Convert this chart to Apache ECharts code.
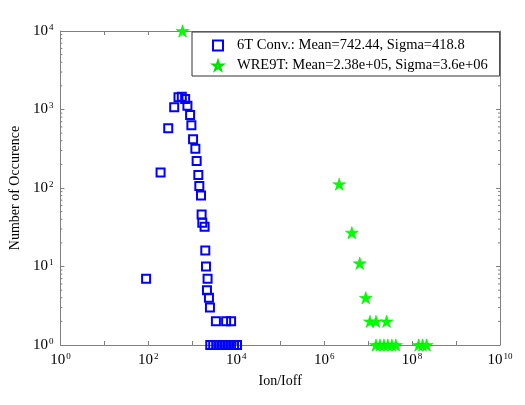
<!DOCTYPE html>
<html>
<head>
<meta charset="utf-8">
<script src="https://cdn.jsdelivr.net/npm/echarts@6/dist/echarts.min.js"></script>
<style>
  html, body { margin: 0; padding: 0; background: #fff; }
  #chart { width: 525px; height: 405px; }
</style>
</head>
<body>
<div id="chart"></div>
<script>
// 6T conventional cell: Ion/Ioff vs count
const convX = [486, 577, 688, 388, 775, 892, 284, 954, 1042, 1175, 1257, 190, 1373, 1446, 1580,
  1630, 1690, 1905, 1977, 2050, 2228, 89, 2158, 2395, 2523, 3445, 5888, 7635,
  2564, 2993, 3499, 4092, 4779, 5585, 6530, 7636, 8917, 10420]
const convY = [1430, 1456, 1361, 1067, 1118, 851, 576, 629, 417, 317, 221, 158, 146, 106, 80,
  46, 36, 32, 16, 10, 7, 7, 5, 4, 3, 2, 2, 2,
  1, 1, 1, 1, 1, 1, 1, 1, 1, 1]

// WRE9T cell
const wreX = [600, 2.2e6, 4.26e6, 6.46e6, 8.83e6, 1.1e7, 1.51e7, 2.63e7,
  1.51e7, 1.86e7, 2.29e7, 2.81e7, 3.47e7, 4.27e7, 1.41e8, 1.73e8, 2.14e8]
const wreY = [10000, 112, 27, 11, 4, 2, 2, 2,
  1, 1, 1, 1, 1, 1, 1, 1, 1]

const legendNames = [
  "6T Conv.: Mean=742.44, Sigma=418.8",
  "WRE9T: Mean=2.38e+05, Sigma=3.6e+06",
]

// minor tick positions for the log y axis (2..9 in each decade)
const yMinorTicks = [2, 3, 4, 5, 6, 7, 8, 9, 20, 30, 40, 50, 60, 70, 80, 90,
  200, 300, 400, 500, 600, 700, 800, 900, 2000, 3000, 4000, 5000, 6000, 7000, 8000, 9000]

const FONT = "Liberation Serif"
const AXIS = "#808080"
const STAR = "path://M100,0 L122.5,69.1 L195.1,69.1 L136.3,111.8 L158.8,180.9 L100,138.2 L41.2,180.9 L63.7,111.8 L4.9,69.1 L77.5,69.1 Z"

const pow10 = (v) => {
  const e = Math.round(Math.log10(v))
  return `{b|10}{s|${e}}`
}
const rich = {
  b: { fontFamily: FONT, fontSize: 15, color: "#000", lineHeight: 16 },
  s: { fontFamily: FONT, fontSize: 9, color: "#000", verticalAlign: "top", lineHeight: 16, padding: [0, 0, 8, 1] },
}

const chart = echarts.init(document.getElementById("chart"))
const logAxis = (extra) => ({
  type: "log",
  logBase: 10,
  interval: 1,
  axisLine: { show: true, lineStyle: { color: AXIS, width: 1 } },
  axisTick: { show: true, inside: true, length: 4, lineStyle: { color: AXIS } },
  splitLine: { show: false },
  ...extra,
})

chart.setOption({
  animation: false,
  textStyle: { fontFamily: FONT, color: "#000" },
  grid: { left: 57, right: 25, top: 31, bottom: 60 },
  legend: {
    left: 192,
    top: 32,
    orient: "vertical",
    backgroundColor: "#fff",
    borderColor: "#333",
    borderWidth: 1,
    padding: [6, 12, 3, 20],
    itemGap: 5,
    itemWidth: 10,
    itemHeight: 10,
    textStyle: { fontFamily: FONT, fontSize: 14.5, lineHeight: 14, color: "#000", padding: [0, 0, 0, 9] },
    data: legendNames,
  },
  xAxis: [
    logAxis({
      min: 1, max: 1e10,
      position: "bottom",
      name: "Ion/Ioff",
      nameLocation: "middle",
      nameGap: 26,
      nameTextStyle: { fontFamily: FONT, fontSize: 14, color: "#000" },
      axisLabel: {
        margin: 7,
        formatter: (v) => (Math.round(Math.log10(v)) % 2 === 0 ? pow10(v) : ""),
        rich,
      },
    }),
    logAxis({
      min: 1, max: 1e10,
      position: "top",
      axisLabel: { show: false },
    }),
  ],
  yAxis: [
    logAxis({
      min: 1, max: 1e4,
      position: "left",
      name: "Number of Occurence",
      nameLocation: "middle",
      nameGap: 31,
      nameTextStyle: { fontFamily: FONT, fontSize: 14, color: "#000" },
      axisLabel: { margin: 7, formatter: pow10, rich },
    }),
    logAxis({
      min: 1, max: 1e4,
      position: "right",
      axisLabel: { show: false },
    }),
  ],
  series: [
    {
      name: legendNames[0],
      type: "scatter",
      symbol: "rect",
      symbolSize: 8,
      clip: false,
      z: 3,
      itemStyle: { color: "rgba(0,0,0,0)", borderColor: "#0000ff", borderWidth: 2, opacity: 1 },
      data: convX.map((x, i) => [x, convY[i]]),
    },
    {
      name: legendNames[1],
      type: "scatter",
      symbol: STAR,
      symbolKeepAspect: true,
      symbolSize: 13,
      clip: false,
      z: 3,
      itemStyle: { color: "#00ff00", borderColor: "#00e000", borderWidth: 0.5, opacity: 1 },
      data: wreX.map((x, i) => [x, wreY[i]]),
    },
    {
      type: "custom",
      silent: true,
      z: 1,
      data: yMinorTicks.map((v) => [1, v]),
      renderItem: (params, api) => {
        const p = api.coord([1, api.value(1)])
        const cs = params.coordSys
        const style = { stroke: AXIS, lineWidth: 1 }
        return {
          type: "group",
          children: [
            { type: "line", shape: { x1: cs.x, y1: p[1], x2: cs.x + 2, y2: p[1] }, style },
            { type: "line", shape: { x1: cs.x + cs.width - 2, y1: p[1], x2: cs.x + cs.width, y2: p[1] }, style },
          ],
        }
      },
    },
  ],
})
</script>
</body>
</html>
